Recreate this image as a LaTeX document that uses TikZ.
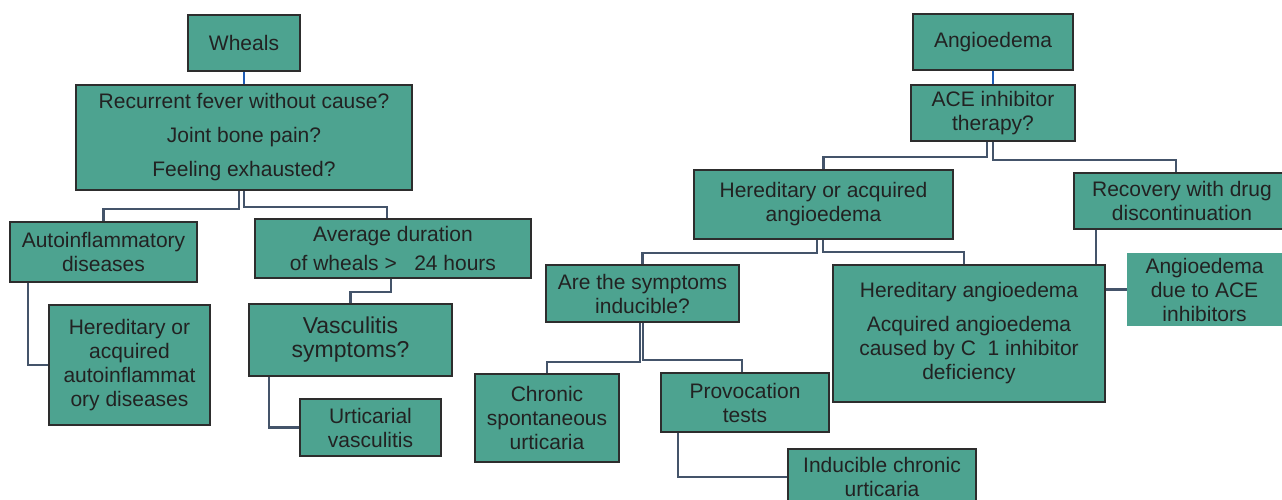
\documentclass[tikz,border=0pt]{standalone}
\usepackage{fontspec}
\setmainfont{Liberation Sans}
\usetikzlibrary{backgrounds}
\definecolor{tealfill}{RGB}{77,163,144}
\definecolor{boxline}{RGB}{45,45,45}
\definecolor{connline}{RGB}{68,84,106}
\definecolor{blueline}{RGB}{31,92,181}
\definecolor{txt}{RGB}{34,34,34}
\newcommand\fsA{\fontsize{21}{24}\selectfont}
\tikzset{
  box/.style={draw=boxline, fill=tealfill, line width=1.7pt, inner sep=0pt,
    align=center, text=txt, font=\fsA},
  plainbox/.style={fill=tealfill, inner sep=0pt, align=center, text=txt, font=\fsA},
  conn/.style={draw=connline, line width=2.8pt},
  blueconn/.style={draw=blueline, line width=2.4pt},
}
\begin{document}
\begin{tikzpicture}[x=1pt,y=-1pt]
\useasboundingbox (0,0) rectangle (1282,499);
\clip (0,0) rectangle (1282,499);
% ---------- left tree ----------
\node[box, minimum width=112, minimum height=56] (wheals) at (244,43) {Wheals};
\node[box, minimum width=336, minimum height=105, font=\fontsize{21}{34}\selectfont] (rec) at (244,137.5)
  {Recurrent fever without cause?\\Joint bone pain?\\Feeling exhausted?};
\node[box, minimum width=187, minimum height=60] (auto) at (103.5,252) {Autoinflammatory\\diseases};
\node[box, minimum width=276, minimum height=59, font=\fontsize{21}{29}\selectfont] (avg) at (393,248.5)
  {Average duration\\of wheals >\ \ \ 24 hours};
\node[box, minimum width=161, minimum height=120] (hered) at (129.5,365)
  {Hereditary or\\acquired\\autoinflammat\\ory diseases};
\node[box, minimum width=203, minimum height=72, font=\fontsize{23}{24}\selectfont] (vasc) at (350.5,340)
  {Vasculitis\\symptoms?};
\node[box, minimum width=141, minimum height=57] (urt) at (370.5,427.5) {Urticarial\\vasculitis};
% ---------- right tree ----------
\node[box, minimum width=160, minimum height=56] (angio) at (993,42) {Angioedema};
\node[box, minimum width=164, minimum height=56] (ace) at (993,113) {ACE inhibitor\\therapy?};
\node[box, minimum width=259, minimum height=69] (hoa) at (823.5,204.5) {Hereditary or acquired\\angioedema};
\node[box, minimum width=216, minimum height=56] (recov) at (1182,201) {Recovery with drug\\discontinuation};
\node[box, minimum width=193, minimum height=57] (sym) at (642.5,293.5) {Are the symptoms\\inducible?};
\node[box, minimum width=272, minimum height=137] (hang) at (969,333.5)
  {Hereditary angioedema\\[10pt]Acquired angioedema\\caused by C\ \ 1 inhibitor\\deficiency};
\node[plainbox, minimum width=155, minimum height=73] (acedue) at (1204.5,289.5)
  {Angioedema\\due to ACE\\inhibitors};
\node[box, minimum width=144, minimum height=88] (chron) at (547,418) {Chronic\\spontaneous\\urticaria};
\node[box, minimum width=168, minimum height=59] (prov) at (745,402.5) {Provocation\\tests};
\node[box, minimum width=188, minimum height=56] (induc) at (882,477) {Inducible chronic\\urticaria};
% ---------- connectors ----------
\begin{pgfonlayer}{background}
\draw[blueconn] (wheals.south) -- (rec.north);
\draw[conn] (rec.south -| 239,0) -- (239,209) -| (auto.north);
\draw[conn] (rec.south -| 244,0) -- (244,207) -| (avg.north -| 387,0);
\draw[conn] (auto.south -| 28,0) |- (hered.west);
\draw[conn] (avg.south -| 391,0) -- (391,292) -| (vasc.north);
\draw[conn] (vasc.south -| 269,0) |- (urt.west);
\draw[blueconn] (angio.south) -- (ace.north);
\draw[conn] (ace.south -| 987,0) -- (987,157) -| (hoa.north);
\draw[conn] (ace.south -| 993,0) -- (993,160) -| (recov.north -| 1176,0);
\draw[conn] (hoa.south -| 817,0) -- (817,253) -| (sym.north);
\draw[conn] (hoa.south -| 823,0) -- (823,252) -| (hang.north -| 964,0);
\draw[conn] (sym.south -| 640,0) -- (640,362) -| (chron.north);
\draw[conn] (sym.south -| 643,0) -- (643,360) -| (prov.north -| 742,0);
\draw[conn] (prov.south -| 678,0) |- (induc.west);
\draw[conn] (recov.south -| 1096,0) |- (acedue.west);
\end{pgfonlayer}
\end{tikzpicture}
\end{document}
